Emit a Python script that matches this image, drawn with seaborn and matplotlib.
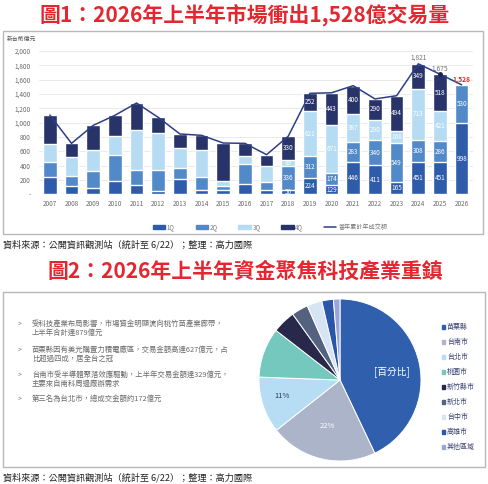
import matplotlib
matplotlib.use("Agg")
import matplotlib.pyplot as plt
import matplotlib.patches as mpatches
from matplotlib.lines import Line2D
import seaborn as sns
import numpy as np

# ---- chart 1 data (新台幣億元) ----
years = [str(y) for y in range(2007, 2027)]
q1 = [240, 116, 93, 181, 130, 47, 214, 60, 60, 144, 56, 56, 224, 129, 446, 411, 165, 451, 451, 998]
q2 = [206, 135, 232, 368, 209, 288, 149, 186, 56, 279, 116, 336, 312, 174, 283, 340, 549, 308, 286, 530]
q3 = [256, 274, 289, 269, 558, 521, 279, 368, 65, 116, 219, 89, 621, 671, 387, 290, 168, 713, 421, 0]
q4 = [405, 186, 348, 284, 377, 218, 200, 209, 535, 172, 162, 330, 252, 443, 400, 290, 494, 349, 518, 0]
top_labels = {"2024": "1,821", "2025": "1,675", "2026": "1,528"}
label_from = "2018"

# ---- chart 2 data ----
regions = ["苗栗縣", "台南市", "台北市", "桃園市", "新竹縣市", "新北市", "台中市", "高雄市", "其他區域"]
shares = [42.9, 21.4, 11.2, 9.9, 4.6, 3.3, 3.0, 2.3, 1.3]
bullets = [
    ["受科技產業布局影響，市場資金明顯流向桃竹苗產業廊帶，", "上半年合計達879億元"],
    ["苗栗縣因有美光購置力積電廠區，交易金額高達627億元，占", "比超過四成，居全台之冠"],
    ["台南市受半導體聚落效應驅動，上半年交易金額達329億元，", "主要來自南科周邊廠辦需求"],
    ["第三名為台北市，總成交金額約172億元"],
]

sns.set_style("white")
plt.rcParams["font.family"] = ["Noto Sans CJK TC", "DejaVu Sans"]

W, H = 488, 484
fig = plt.figure(figsize=(W / 100, H / 100), dpi=100)
fig.patch.set_facecolor("white")


def px_axes(l, t, r, b):
    return fig.add_axes([l / W, 1 - b / H, (r - l) / W, (b - t) / H])


def frame(l, t, r, b):
    fig.patches.append(mpatches.Rectangle((l / W, 1 - b / H), (r - l) / W, (b - t) / H,
                                          transform=fig.transFigure, fill=False,
                                          edgecolor="#b8b8b8", lw=1.0))


red = "#e3262f"
title_kw = dict(ha="center", va="center", fontsize=15, color=red, fontweight="bold")
src = "資料來源：公開資訊觀測站（統計至 6/22）；整理：高力國際"

# ================= chart 1 =================
fig.text(245 / W, 1 - 15 / H, "圖1：2026年上半年市場衝出1,528億交易量", **title_kw)
frame(3, 31, 483, 234)

c1, c2, c3, c4 = "#2f5caa", "#5189c9", "#b5dcf3", "#28336a"
line_c = "#2e3e87"

q1a, q2a, q3a, q4a = map(np.array, (q1, q2, q3, q4))
cum1 = q1a
cum2 = cum1 + q2a
cum3 = cum2 + q3a
cum4 = cum3 + q4a

ax = px_axes(39, 51, 472.5, 194.3)
for cum, col in [(cum4, c4), (cum3, c3), (cum2, c2), (cum1, c1)]:
    sns.barplot(x=years, y=cum, color=col, saturation=1, width=0.63,
                errorbar=None, ax=ax, zorder=2)
sns.lineplot(x=np.arange(len(years)), y=cum4, color=line_c, lw=1.1, ax=ax,
             sort=False, zorder=3)
ax.plot([years.index("2025")], [cum4[years.index("2025")]], "o", color="#1c2450",
        ms=2.5, zorder=4)

ax.set_ylim(0, 2000)
ax.set_xlim(-0.5, len(years) - 0.5)
ax.set_yticks(range(0, 2001, 200))
ax.set_yticklabels(["-"] + [f"{v:,}" for v in range(200, 2001, 200)])
ax.yaxis.grid(True, color="#e6e6e6", lw=0.6, zorder=0)
ax.set_axisbelow(True)
for s in ax.spines.values():
    s.set_visible(False)
ax.tick_params(axis="both", length=0, labelsize=4.6, colors="#6a6a6a", pad=6)
ax.tick_params(axis="x", pad=4)
ax.set_xlabel("")
ax.set_ylabel("")

start = years.index(label_from)
for i in range(start, len(years)):
    lows = [0, cum1[i], cum2[i], cum3[i]]
    for low, v in zip(lows, (q1[i], q2[i], q3[i], q4[i])):
        if v > 0:
            ax.text(i, low + v / 2, str(v), ha="center", va="center", fontsize=4.6,
                    color="white", zorder=5)
for yr, txt in top_labels.items():
    i = years.index(yr)
    col = red if yr == "2026" else "#707070"
    ax.text(i, cum4[i] + 25, txt, ha="center", va="bottom", fontsize=4.8, color=col,
            fontweight="bold" if yr == "2026" else "normal", zorder=5)

fig.text(7 / W, 1 - 39 / H, "新台幣億元", fontsize=4.2, color="#555555", va="center")

handles = [mpatches.Patch(color=c1, label="1Q"), mpatches.Patch(color=c2, label="2Q"),
           mpatches.Patch(color=c3, label="3Q"), mpatches.Patch(color=c4, label="4Q"),
           Line2D([], [], color=line_c, lw=1.1, label="當年累計年成交額")]
fig.legend(handles=handles, loc="center", bbox_to_anchor=(270 / W, 1 - 227 / H),
           ncol=5, frameon=False, fontsize=4.4, handlelength=2.0, handleheight=0.6,
           columnspacing=3.4, handletextpad=0.3, labelcolor="#777777")

fig.text(3 / W, 1 - 245 / H, src, fontsize=6.6, color="#222222", va="center")

# ================= chart 2 =================
fig.text(245 / W, 1 - 271 / H, "圖2：2026年上半年資金聚焦科技產業重鎮", **title_kw)
frame(3, 292, 485, 467)

ys = [[324, 333], [350, 359], [375, 384], [399]]
for para, yy in zip(bullets, ys):
    fig.text(18 / W, 1 - yy[0] / H, ">", fontsize=5, color="#777777", va="center")
    for line, y in zip(para, yy):
        fig.text(32 / W, 1 - y / H, line, fontsize=5.3, color="#6a6a6a", va="center")

pie_cols = ["#2f5fad", "#abb4c9", "#b6ddf4", "#74c8be", "#28284a",
            "#55627f", "#d7e4f3", "#2956a9", "#9ba5d8"]
pax = px_axes(259, 299, 421, 461)
wedges, _ = pax.pie(shares, colors=pie_cols, startangle=90, counterclock=False,
                    wedgeprops=dict(edgecolor="white", linewidth=0.7))
pax.set_xlim(-1, 1)
pax.set_ylim(-1, 1)
pax.set_aspect("equal")
pax.axis("off")

fig.text(392 / W, 1 - 372 / H, "[百分比]", fontsize=7, color="white", ha="center", va="center")
fig.text(327 / W, 1 - 426 / H, "22%", fontsize=5.5, color="white", ha="center", va="center")
fig.text(282 / W, 1 - 396 / H, "11%", fontsize=5.5, color="#333a5a", ha="center", va="center")

for k, (name, col) in enumerate(zip(regions, pie_cols)):
    y = 327 + 15 * k
    fig.patches.append(mpatches.Rectangle((441.5 / W, 1 - (y + 1.7) / H), 3.4 / W, 3.4 / H,
                                          transform=fig.transFigure, color=col))
    fig.text(447 / W, 1 - y / H, name, fontsize=5, color="#3b4470", va="center")

fig.text(3 / W, 1 - 478 / H, src, fontsize=6.6, color="#222222", va="center")

fig.savefig("out.png", dpi=100)
